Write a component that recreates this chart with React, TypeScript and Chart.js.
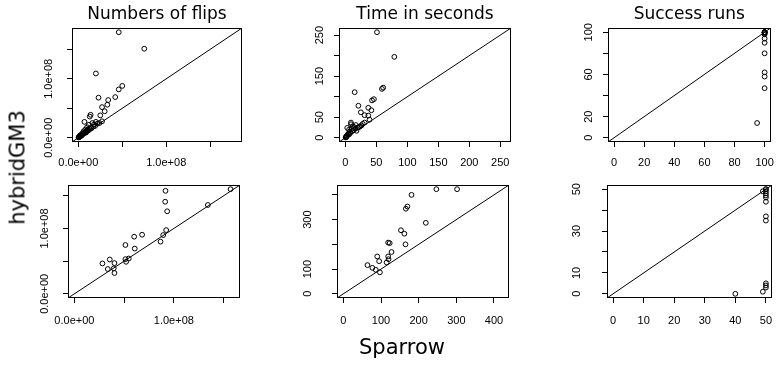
import React, { useEffect, useRef } from "react";
import { Chart, registerables } from "chart.js";

Chart.register(...registerables);

// ---------------- Data ----------------
const panelTitles = ["Numbers of flips", "Time in seconds", "Success runs"];
const xAxisTitle = "Sparrow";
const yAxisTitle = "hybridGM3";

// Row 1: flips
const flipsSparrowA = [46e6, 75e6, 20e6, 50e6, 46e6, 42e6, 23e6, 34e6, 33e6, 27e6, 30e6, 25e6, 14e6, 13e6, 7e6, 22e6, 20e6, 18e6, 24e6, 16e6, 12e6, 27e6, 17e6, 10e6, 13e6, 8e6, 6e6, 9e6, 5e6, 4e6, 3e6, 2e6, 1e6, 0.5e6, 3e6, 5e6, 7e6, 11e6, 2e6, 4e6, 6e6, 8e6, 10e6, 15e6, 19e6, 14e6, 1e6, 2e6, 0.3e6, 9e6, 12e6];
const flipsHybridA = [179e6, 151e6, 109e6, 88e6, 82e6, 69e6, 68e6, 64e6, 56e6, 52e6, 45e6, 38e6, 39e6, 36e6, 27e6, 24e6, 27e6, 23e6, 25e6, 25e6, 22e6, 28e6, 19e6, 18e6, 15e6, 14e6, 11e6, 11e6, 8e6, 6e6, 5e6, 3e6, 2e6, 1e6, 3e6, 6e6, 8e6, 13e6, 4e6, 4e6, 7e6, 10e6, 12e6, 16e6, 20e6, 17e6, 1e6, 2e6, 0.5e6, 9e6, 13e6];
// Row 1: time
const timeSparrowA = [51, 79, 15, 61, 59, 46, 43, 21, 37, 42, 25, 31, 37, 39, 9, 9, 17, 28, 31, 18, 3, 20, 24, 26, 12, 14, 6, 10, 7, 5, 4, 3, 2, 1, 0.5, 8, 11, 13, 2, 1, 6, 16, 22];
const timeHybridA = [257, 197, 111, 122, 119, 94, 91, 78, 73, 67, 62, 55, 54, 44, 37, 33, 31, 34, 37, 17, 24, 25, 28, 30, 28, 26, 20, 22, 15, 10, 8, 6, 4, 2, 1, 12, 16, 19, 3, 1, 8, 22, 26];
// Row 1: success
const successSparrowA = [100, 100, 100, 100, 100, 100, 100, 100, 100, 100, 100, 100, 100, 100, 95];
const successHybridA = [100, 100, 100, 100, 100, 100, 99, 98, 94, 90, 80, 62, 58, 47, 14];
// Row 2: flips
const flipsSparrowB = [157e6, 134.2e6, 91.6e6, 91.3e6, 93.3e6, 92.3e6, 89.3e6, 86.6e6, 68.1e6, 60.1e6, 60.7e6, 51.3e6, 51.3e6, 54.7e6, 52e6, 35.6e6, 28.2e6, 40.3e6, 33.6e6, 39.6e6, 40.3e6];
const flipsHybridB = [160.1e6, 135.9e6, 157.6e6, 140.9e6, 126.3e6, 97.5e6, 89.9e6, 79.8e6, 90.4e6, 87.4e6, 69.2e6, 74.7e6, 53e6, 54e6, 49e6, 52.5e6, 46.5e6, 47e6, 37.9e6, 38.9e6, 31.8e6];
// Row 2: time
const timeSparrowB = [247, 302, 181, 170, 166, 219, 153, 162, 165, 119, 123, 128, 90, 119, 95, 120, 115, 64, 77, 86, 97];
const timeHybridB = [423, 423, 400, 353, 344, 287, 257, 243, 200, 207, 205, 169, 151, 151, 132, 140, 127, 116, 105, 97, 87];
// Row 2: success
const successSparrowB = [49, 50, 50, 50, 50, 50, 50, 50, 50, 50, 50, 50, 50, 49, 40];
const successHybridB = [49, 50, 50, 49, 48, 47, 46, 44, 37, 35, 5, 4, 3, 1, 0];

// Ticks
const flipsTicks = [0, 5e7, 1e8, 1.5e8];
const flipsTickLabels = ["0.0e+00", "", "1.0e+08", ""];
const timeTicksA = [0, 50, 100, 150, 200, 250];
const timeXLabelsA = ["0", "50", "100", "150", "200", "250"];
const timeYLabelsA = ["0", "50", "", "150", "", "250"];
const successTicksA = [0, 20, 40, 60, 80, 100];
const successXLabelsA = ["0", "20", "40", "60", "80", "100"];
const successYLabelsA = ["0", "20", "", "60", "", "100"];
const timeTicksB = [0, 100, 200, 300, 400];
const timeXLabelsB = ["0", "100", "200", "300", "400"];
const timeYLabelsB = ["0", "100", "", "300", ""];
const successTicksB = [0, 10, 20, 30, 40, 50];
const successXLabelsB = ["0", "10", "20", "30", "40", "50"];
const successYLabelsB = ["0", "10", "", "30", "", "50"];

// ---------------- Layout ----------------
type Rect = { x: number; y: number; w: number; h: number };
type Box = { l: number; r: number; t: number; b: number };
type PanelSpec = {
  canvas: Rect;
  box: Box;
  title?: string;
  xs: number[];
  ys: number[];
  ticks: number[];
  xLabels: string[];
  yLabels: string[];
  xLabelOffset: number;
  yLabelOffset: number;
};

const TICK_FONT_FAMILY = "'Liberation Sans', Arial, sans-serif";
const TICK_FONT_SIZE = 11;
const TEXT_FAMILY = "'DejaVu Sans', sans-serif";
const TICK_LEN = 5;

const panels: PanelSpec[] = [
  {
    canvas: { x: 0, y: 0, w: 260, h: 180 }, box: { l: 72, r: 242, t: 28, b: 142 }, title: panelTitles[0],
    xs: flipsSparrowA, ys: flipsHybridA, ticks: flipsTicks, xLabels: flipsTickLabels, yLabels: flipsTickLabels,
    xLabelOffset: 21.3, yLabelOffset: 23,
  },
  {
    canvas: { x: 260, y: 0, w: 260, h: 180 }, box: { l: 339, r: 511, t: 28, b: 142 }, title: panelTitles[1],
    xs: timeSparrowA, ys: timeHybridA, ticks: timeTicksA, xLabels: timeXLabelsA, yLabels: timeYLabelsA,
    xLabelOffset: 21.3, yLabelOffset: 18.7,
  },
  {
    canvas: { x: 520, y: 0, w: 264, h: 180 }, box: { l: 608, r: 780, t: 28, b: 142 }, title: panelTitles[2],
    xs: successSparrowA, ys: successHybridA, ticks: successTicksA, xLabels: successXLabelsA, yLabels: successYLabelsA,
    xLabelOffset: 21.3, yLabelOffset: 19,
  },
  {
    canvas: { x: 0, y: 150, w: 260, h: 216 }, box: { l: 68, r: 240, t: 185, b: 298 },
    xs: flipsSparrowB, ys: flipsHybridB, ticks: flipsTicks, xLabels: flipsTickLabels, yLabels: flipsTickLabels,
    xLabelOffset: 23.4, yLabelOffset: 23.4,
  },
  {
    canvas: { x: 260, y: 150, w: 260, h: 216 }, box: { l: 337, r: 509, t: 185, b: 298 },
    xs: timeSparrowB, ys: timeHybridB, ticks: timeTicksB, xLabels: timeXLabelsB, yLabels: timeYLabelsB,
    xLabelOffset: 23.4, yLabelOffset: 29,
  },
  {
    canvas: { x: 520, y: 150, w: 264, h: 216 }, box: { l: 607, r: 780, t: 185, b: 298 },
    xs: successSparrowB, ys: successHybridB, ticks: successTicksB, xLabels: successXLabelsB, yLabels: successYLabelsB,
    xLabelOffset: 23.4, yLabelOffset: 30,
  },
];

const framePlugin = {
  id: "frame",
  afterDraw(chart: any) {
    const { ctx, chartArea } = chart;
    const l = Math.round(chartArea.left) + 0.5;
    const t = Math.round(chartArea.top) + 0.5;
    const r = Math.round(chartArea.right) - 0.5;
    const b = Math.round(chartArea.bottom) - 0.5;
    ctx.save();
    ctx.strokeStyle = "#000";
    ctx.lineWidth = 1;
    ctx.strokeRect(l, t, r - l, b - t);
    ctx.restore();
  },
};

function measureWidest(labels: string[]): number {
  const c = document.createElement("canvas").getContext("2d")!;
  c.font = `normal ${TICK_FONT_SIZE}px ${TICK_FONT_FAMILY}`;
  return Math.max(0, ...labels.map((l) => c.measureText(l).width));
}

function Panel({ spec }: { spec: PanelSpec }) {
  const ref = useRef<HTMLCanvasElement>(null);
  useEffect(() => {
    const { canvas, box } = spec;
    const hi0 = Math.max(...spec.xs, ...spec.ys);
    const lo0 = 0;
    const ext = 0.04 * (hi0 - lo0);
    const lo = lo0 - ext;
    const hi = hi0 + ext;

    const points = spec.xs.map((x, i) => ({ x, y: spec.ys[i] }));
    const diag = [{ x: lo, y: lo }, { x: hi, y: hi }];

    const tickFont = { family: TICK_FONT_FAMILY, size: TICK_FONT_SIZE, lineHeight: 1.2 };
    const xPad = spec.xLabelOffset - TICK_LEN - (TICK_FONT_SIZE * 1.2) / 2;
    const yPad = spec.yLabelOffset - TICK_LEN - measureWidest(spec.yLabels) / 2;

    const titleLine = 17 * 1.2;
    const titleTop = 4.8;

    const grid = { drawOnChartArea: false, drawTicks: true, tickLength: TICK_LEN, color: "#000", lineWidth: 1 };

    const chart = new Chart(ref.current!, {
      type: "scatter",
      data: {
        datasets: [
          { data: diag, showLine: true, pointRadius: 0, borderColor: "#000", borderWidth: 1, fill: false } as any,
          { data: points, pointRadius: 2.4, pointStyle: "circle", borderColor: "#000", backgroundColor: "rgba(0,0,0,0)", borderWidth: 1 } as any,
        ],
      },
      options: {
        animation: false,
        responsive: false,
        events: [],
        layout: {
          padding: {
            left: 0,
            right: canvas.x + canvas.w - box.r,
            top: spec.title ? 0 : box.t - canvas.y,
            bottom: 0,
          },
        },
        plugins: {
          legend: { display: false },
          tooltip: { enabled: false },
          title: spec.title
            ? {
                display: true,
                text: spec.title,
                fullSize: false,
                color: "#000",
                font: { family: TEXT_FAMILY, size: 17, weight: "normal", lineHeight: 1.2 },
                padding: { top: titleTop, bottom: box.t - canvas.y - titleTop - titleLine },
              }
            : { display: false },
        },
        scales: {
          x: {
            type: "linear",
            position: "bottom",
            min: lo,
            max: hi,
            afterBuildTicks: (s: any) => {
              s.ticks = spec.ticks.map((v) => ({ value: v }));
            },
            afterFit: (s: any) => {
              s.height = canvas.y + canvas.h - box.b;
            },
            ticks: {
              autoSkip: false,
              minRotation: 0,
              maxRotation: 0,
              padding: xPad,
              color: "#000",
              font: tickFont,
              callback: (_v: any, i: number) => spec.xLabels[i],
            },
            grid,
            border: { display: false },
          },
          y: {
            type: "linear",
            position: "left",
            min: lo,
            max: hi,
            afterBuildTicks: (s: any) => {
              s.ticks = spec.ticks.map((v) => ({ value: v }));
            },
            afterFit: (s: any) => {
              s.width = box.l - canvas.x;
            },
            ticks: {
              autoSkip: false,
              minRotation: 90,
              maxRotation: 90,
              crossAlign: "center",
              padding: yPad,
              color: "#000",
              font: tickFont,
              callback: (_v: any, i: number) => spec.yLabels[i],
            },
            grid,
            border: { display: false },
          },
        },
      } as any,
      plugins: [framePlugin],
    });
    return () => chart.destroy();
  }, [spec]);

  return (
    <canvas
      ref={ref}
      width={spec.canvas.w}
      height={spec.canvas.h}
      style={{ position: "absolute", left: spec.canvas.x, top: spec.canvas.y, width: spec.canvas.w, height: spec.canvas.h }}
    />
  );
}

export default function App() {
  return (
    <div style={{ position: "absolute", left: 0, top: 0, width: 784, height: 366, background: "#fff", overflow: "hidden" }}>
      {panels.map((p, i) => (
        <Panel key={i} spec={p} />
      ))}
      <div
        style={{
          position: "absolute",
          left: 18 - 80,
          top: 167 - 10.5,
          width: 160,
          height: 21,
          lineHeight: "21px",
          fontSize: 21,
          fontFamily: TEXT_FAMILY,
          textAlign: "center",
          color: "#000",
          whiteSpace: "nowrap",
          transform: "rotate(-90deg)",
          transformOrigin: "50% 50%",
        }}
      >
        {yAxisTitle}
      </div>
      <div
        style={{
          position: "absolute",
          left: 402 - 80,
          top: 337,
          width: 160,
          height: 21,
          lineHeight: "21px",
          fontSize: 21,
          fontFamily: TEXT_FAMILY,
          textAlign: "center",
          color: "#000",
          whiteSpace: "nowrap",
        }}
      >
        {xAxisTitle}
      </div>
    </div>
  );
}
